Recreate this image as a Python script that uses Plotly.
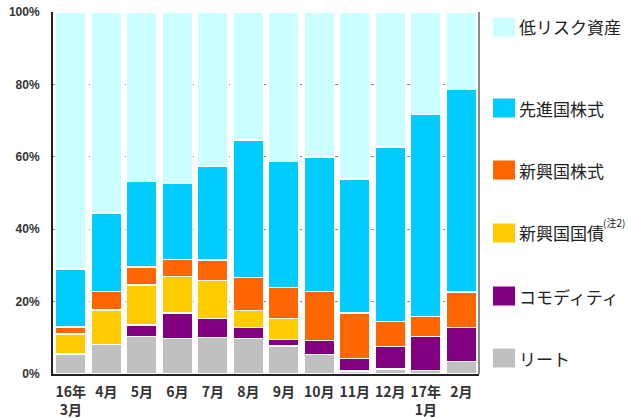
import plotly.graph_objects as go

categories = ["16年<br>3月", "4月", "5月", "6月", "7月", "8月", "9月", "10月", "11月", "12月", "17年<br>1月", "2月"]

reit      = [5.5, 8.2, 10.3, 9.8, 10.1, 9.8, 7.8, 5.4, 0.8, 1.4, 1.0, 3.4]
commodity = [0.0, 0.0, 3.3, 7.0, 5.3, 3.0, 1.8, 3.9, 3.5, 6.2, 9.4, 9.4]
em_bond   = [5.5, 9.5, 11.0, 10.1, 10.4, 4.8, 5.7, 0.0, 0.0, 0.0, 0.0, 0.0]
em_equity = [2.0, 5.1, 4.9, 4.7, 5.7, 9.1, 8.6, 13.5, 12.6, 6.9, 5.5, 9.9]
dm_equity = [16.0, 21.7, 23.7, 21.0, 25.9, 38.0, 34.8, 37.2, 36.9, 48.2, 55.8, 55.9]
low_risk  = [71.0, 55.5, 46.8, 47.4, 42.6, 35.3, 41.3, 40.0, 46.2, 37.3, 28.3, 21.4]

series_names = ["リート", "コモディティ", "新興国国債", "新興国株式", "先進国株式", "低リスク資産"]
series_values = [reit, commodity, em_bond, em_equity, dm_equity, low_risk]
series_colors = ["#C0C0C0", "#800080", "#FFCC00", "#FF6600", "#00CCFF", "#CCFFFF"]

y_ticks = [0, 20, 40, 60, 80, 100]
y_tick_labels = ["0%", "20%", "40%", "60%", "80%", "100%"]

fig = go.Figure()
for name, vals, col in zip(series_names, series_values, series_colors):
    fig.add_trace(go.Bar(
        x=categories, y=vals, name=name,
        marker=dict(color=col, line=dict(color="white", width=1.5)),
        showlegend=False,
    ))

font_jp = "Noto Sans CJK JP, Noto Sans, sans-serif"

W, H = 638, 418
# plot area in window pixels: x 53..479, y 12..374
ML = 53
MT = 12
MR = W - 479
MB = H - 374

fig.update_layout(
    barmode="stack",
    bargap=0.13,
    width=W, height=H,
    margin=dict(l=ML, r=MR, t=MT, b=MB, autoexpand=False),
    paper_bgcolor="white", plot_bgcolor="white",
    font=dict(family=font_jp, color="#333333"),
    xaxis=dict(
        automargin=False, ticklabeloverflow="allow",
        showline=True, linecolor="#222222", linewidth=2,
        ticks="", ticklabelstandoff=4,
        tickfont=dict(size=14, family=font_jp, color="#333333", weight="bold"),
        showgrid=False,
    ),
    yaxis=dict(
        automargin=False, ticklabeloverflow="allow",
        range=[0, 100], tickvals=y_ticks, ticktext=y_tick_labels,
        showline=True, linecolor="#222222", linewidth=2,
        ticks="", ticklabelstandoff=9,
        tickfont=dict(size=12, family="Liberation Sans, Arial, sans-serif", color="#333333", weight="bold"),
        showgrid=True, gridcolor="#888888", griddash="dot", gridwidth=1,
        zeroline=False,
    ),
)

# right border line (gray)
fig.add_shape(type="line", xref="paper", yref="paper", x0=1, x1=1, y0=0, y1=1,
              line=dict(color="#666666", width=1.5))

def px_to_xpaper(x):
    return (x - ML) / (W - ML - MR)

def px_to_ypaper(y):
    return (H - MB - y) / (H - MT - MB)

# manual legend on the right (top to bottom order), pixel centers
legend_y = [27, 108, 170, 233, 296, 358]
legend_order = list(reversed(range(len(series_names))))
for yc, idx in zip(legend_y, legend_order):
    fig.add_shape(type="rect", xref="paper", yref="paper",
                  x0=px_to_xpaper(493), x1=px_to_xpaper(515),
                  y0=px_to_ypaper(yc + 9.5), y1=px_to_ypaper(yc - 9.5),
                  fillcolor=series_colors[idx], line=dict(width=0))
    fig.add_annotation(xref="paper", yref="paper",
                       x=px_to_xpaper(517), y=px_to_ypaper(yc),
                       text=series_names[idx], showarrow=False, xanchor="left", yanchor="middle",
                       font=dict(size=17, family=font_jp, color="#222222"))

fig.add_annotation(xref="paper", yref="paper",
                   x=px_to_xpaper(601), y=px_to_ypaper(222),
                   text="(注2)", showarrow=False, xanchor="left", yanchor="middle",
                   font=dict(size=10, family=font_jp, color="#222222"))

fig.write_html("out.html", config={"displayModeBar": False},
               post_script="document.body.style.margin='0';")
